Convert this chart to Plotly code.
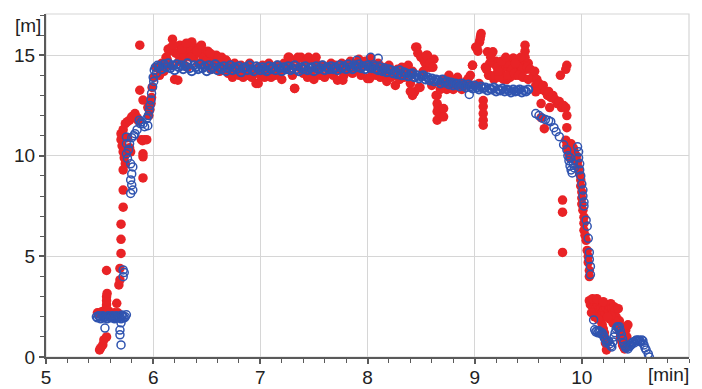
import plotly.graph_objects as go

# ---------------- BLUE (open circles) ----------------
blue_base_x = [5.47, 5.48, 5.49, 5.50, 5.51, 5.52, 5.53, 5.54, 5.55, 5.56, 5.57, 5.58, 5.59, 5.60, 5.61,
               5.62, 5.63, 5.64, 5.65, 5.66, 5.67, 5.68, 5.69, 5.70, 5.71, 5.72, 5.73, 5.74, 5.75]
blue_base_y = [2.0, 1.95, 2.05, 2.0, 1.9, 2.0, 2.05, 1.95, 2.0, 2.0, 1.9, 2.05, 2.0, 1.95, 2.0,
               2.05, 1.95, 1.9, 2.0, 2.05, 2.0, 1.95, 2.0, 1.9, 2.05, 2.0, 1.95, 2.0, 2.1]

blue_out_x = [5.55, 5.69, 5.69, 5.70, 5.70, 5.71, 5.72, 5.72, 5.73]
blue_out_y = [1.44, 1.34, 1.1, 0.6, 1.7, 2.09, 3.99, 4.33, 4.2]

blue_rise_x = [5.75, 5.75, 5.75, 5.76, 5.77, 5.78, 5.79, 5.81, 5.80, 5.79, 5.80, 5.79, 5.81, 5.80,
               5.82, 5.83, 5.85, 5.87, 5.88, 5.89, 5.905, 5.92, 5.94, 5.95, 5.955, 5.965, 5.97,
               5.98, 5.985, 5.995, 6.0, 6.005, 6.01, 6.02, 6.03, 6.04]
blue_rise_y = [10.94, 10.6, 10.1, 9.87, 10.3, 10.6, 9.6, 9.45, 9.1, 8.8, 8.55, 8.13, 8.3, 10.9,
               11.0, 11.1, 11.3, 11.77, 11.6, 11.7, 11.6, 11.45, 11.85, 11.5, 12.0, 12.27, 12.5,
               12.77, 13.1, 13.43, 13.9, 13.7, 14.26, 14.4, 14.1, 14.5]

plat_x = [6.06, 6.08, 6.10, 6.12, 6.14, 6.16, 6.18, 6.20, 6.22, 6.24,
          6.26, 6.28, 6.30, 6.32, 6.34, 6.36, 6.38, 6.40, 6.42, 6.44,
          6.46, 6.48, 6.50, 6.52, 6.54, 6.56, 6.58, 6.60, 6.62, 6.64,
          6.66, 6.68, 6.70, 6.72, 6.74, 6.76, 6.78, 6.80, 6.82, 6.84,
          6.86, 6.88, 6.90, 6.92, 6.94, 6.96, 6.98, 7.00, 7.02, 7.04,
          7.06, 7.08, 7.10, 7.12, 7.14, 7.16, 7.18, 7.20, 7.22, 7.24,
          7.26, 7.28, 7.30, 7.32, 7.34, 7.36, 7.38, 7.40, 7.42, 7.44,
          7.46, 7.48, 7.50, 7.52, 7.54, 7.56, 7.58, 7.60, 7.62, 7.64,
          7.66, 7.68, 7.70, 7.72, 7.74, 7.76, 7.78, 7.80, 7.82, 7.84,
          7.86, 7.88, 7.90, 7.92, 7.94, 7.96, 7.98, 8.00, 8.02, 8.04,
          8.06, 8.08, 8.10, 8.12, 8.14, 8.16, 8.18, 8.20, 8.22, 8.24,
          8.26, 8.28, 8.30, 8.32, 8.34, 8.36, 8.38, 8.40, 8.42, 8.44,
          8.46, 8.48, 8.50, 8.52, 8.54, 8.56, 8.58, 8.60, 8.62, 8.64,
          8.66, 8.68, 8.70, 8.72, 8.74, 8.76, 8.78, 8.80, 8.82, 8.84,
          8.86, 8.88, 8.90, 8.92, 8.94, 8.96, 8.98, 9.00, 9.02, 9.04,
          9.06, 9.08, 9.10, 9.12, 9.14, 9.16, 9.18, 9.20, 9.22, 9.24,
          9.26, 9.28, 9.30, 9.32, 9.34, 9.36, 9.38, 9.40, 9.42, 9.44,
          9.46, 9.48, 9.50]

blue_plat_y = [14.45, 14.3, 14.55, 14.4, 14.6, 14.35, 14.5, 14.25, 14.55, 14.4,
               14.5, 14.3, 14.45, 14.6, 14.35, 14.2, 14.5, 14.4, 14.3, 14.55,
               14.35, 14.45, 14.2, 14.5, 14.3, 14.4, 14.55, 14.25, 14.4, 14.3,
               14.45, 14.2, 14.35, 14.5, 14.25, 14.4, 14.3, 14.45, 14.15, 14.35,
               14.4, 14.25, 14.5, 14.3, 14.2, 14.45, 14.35, 14.25, 14.4, 14.3,
               14.2, 14.45, 14.3, 14.4, 14.25, 14.5, 14.35, 14.2, 14.4, 14.3,
               14.45, 14.25, 14.35, 14.5, 14.3, 14.2, 14.4, 14.3, 14.45, 14.25,
               14.35, 14.4, 14.2, 14.45, 14.3, 14.35, 14.5, 14.25, 14.4, 14.3,
               14.45, 14.3, 14.4, 14.25, 14.5, 14.35, 14.45, 14.3, 14.55, 14.4,
               14.3, 14.5, 14.4, 14.55, 14.35, 14.45, 14.3, 14.5, 14.4, 14.35,
               14.45, 14.3, 14.25, 14.4, 14.2, 14.35, 14.15, 14.3, 14.25, 14.1,
               14.2, 14.05, 14.25, 14.0, 14.15, 14.1, 13.95, 14.05, 14.1, 13.9,
               14.0, 13.85, 13.95, 14.0, 13.8, 13.9, 13.75, 13.85, 13.7, 13.8,
               13.75, 13.6, 13.8, 13.65, 13.7, 13.55, 13.65, 13.5, 13.6, 13.55,
               13.45, 13.6, 13.5, 13.4, 13.55, 13.45, 13.35, 13.5, 13.4, 13.3,
               13.45, 13.35, 13.4, 13.25, 13.35, 13.3, 13.4, 13.2, 13.3, 13.25,
               13.35, 13.2, 13.3, 13.25, 13.15, 13.3, 13.2, 13.25, 13.3, 13.15,
               13.25, 13.2, 13.3]

blue_plat_out_x = [7.90, 8.03, 8.10, 8.95]
blue_plat_out_y = [14.75, 14.9, 14.85, 13.05]

blue_drop_x = [9.57, 9.60, 9.63, 9.66, 9.69, 9.71, 9.74, 9.76, 9.79, 9.83, 9.86, 9.87, 9.88, 9.89,
               9.90, 9.91, 9.89, 9.92, 9.93, 9.96, 9.97, 9.97, 9.98, 9.98, 9.99, 10.0, 10.01, 10.01,
               10.02, 10.02, 10.04, 10.05, 10.06, 10.07, 10.07, 10.08, 10.08]
blue_drop_y = [12.1, 12.0, 11.87, 11.8, 11.75, 11.7, 11.4, 11.2, 10.95, 10.55, 10.3, 10.0, 9.75, 9.5,
               9.3, 9.15, 9.9, 9.6, 9.4, 10.45, 10.2, 9.9, 9.6, 9.3, 9.0, 8.6, 8.3, 8.0,
               7.7, 7.5, 6.8, 6.5, 5.9, 5.2, 4.85, 4.5, 4.1]

blue_low_x = [10.11, 10.12, 10.13, 10.14, 10.15, 10.16, 10.17, 10.18, 10.19, 10.20, 10.21, 10.22,
              10.23, 10.24, 10.25, 10.26, 10.27, 10.28, 10.29, 10.30, 10.31, 10.32, 10.33, 10.34,
              10.35, 10.36, 10.37, 10.38, 10.39, 10.40, 10.41, 10.42, 10.43, 10.44, 10.45, 10.46,
              10.47, 10.48, 10.49, 10.50, 10.51, 10.52, 10.53, 10.54, 10.55, 10.56, 10.57, 10.58,
              10.59, 10.60, 10.62, 10.63]
blue_low_y = [1.84, 1.35, 1.25, 1.3, 1.2, 1.3, 1.25, 1.15, 1.2, 1.1, 0.95, 0.85,
              0.7, 0.75, 0.8, 0.65, 0.55, 0.5, 0.75, 1.0, 1.2, 1.4, 1.5, 1.45,
              1.5, 1.3, 1.1, 0.9, 0.7, 0.55, 0.45, 0.5, 0.4, 0.5, 0.55, 0.6,
              0.7, 0.75, 0.7, 0.8, 0.85, 0.8, 0.85, 0.8, 0.75, 0.85, 0.8, 0.6,
              0.45, 0.35, 0.15, 0.0]

# ---------------- RED (filled dots) ----------------
red_base_x = [5.50, 5.51, 5.53, 5.54, 5.565, 5.48, 5.49, 5.51, 5.52, 5.53, 5.55, 5.56, 5.565, 5.565,
              5.565, 5.57, 5.56, 5.58, 5.60, 5.62, 5.64, 5.565, 5.66, 5.67, 5.68, 5.69, 5.69, 5.70,
              5.70, 5.70, 5.72, 5.72, 5.72]
red_base_y = [0.35, 0.45, 0.6, 0.85, 1.0, 2.2, 2.15, 2.2, 2.25, 2.15, 2.3, 2.4, 2.6, 2.8,
              3.0, 3.16, 2.2, 2.3, 2.2, 2.15, 2.2, 4.3, 2.67, 2.2, 3.58, 3.83, 4.4, 5.15,
              5.85, 6.6, 7.45, 8.3, 9.3]

red_rise_x = [5.70, 5.70, 5.71, 5.72, 5.73, 5.74, 5.72, 5.74, 5.76, 5.78, 5.80, 5.82, 5.83, 5.85,
              5.86, 5.76, 5.78, 5.79, 5.89, 5.90, 5.92, 5.94, 5.905, 5.905, 5.905, 5.875, 5.905,
              5.875, 5.95, 5.985, 5.97, 5.99, 6.01, 6.03, 5.96, 5.98]
red_rise_y = [10.8, 11.1, 10.5, 10.2, 9.9, 9.6, 11.3, 11.6, 11.7, 11.77, 11.94, 12.0, 12.1, 11.9,
              11.75, 10.9, 10.4, 10.2, 10.8, 10.75, 10.8, 10.8, 10.1, 9.95, 8.9, 13.26, 12.77,
              15.5, 12.4, 12.9, 12.3, 13.4, 13.9, 14.4, 12.0, 12.6]

red_plat_y = [14.0, 14.6, 14.2, 14.9, 15.3, 14.5, 15.8, 13.8, 15.1, 14.7,
              15.2, 14.8, 15.5, 14.4, 15.0, 15.6, 14.9, 15.3, 14.6, 15.1,
              14.7, 15.2, 14.5, 14.9, 14.3, 15.0, 14.6, 14.8, 14.2, 14.9,
              14.6, 14.75, 14.1, 14.5, 13.9, 14.6, 14.2, 14.0, 14.5, 13.9,
              14.3, 14.0, 14.6, 13.9, 14.1, 13.6, 14.4, 14.0, 14.5, 13.9,
              14.2, 14.6, 13.9, 14.4, 14.0, 14.5, 14.1, 13.8, 14.6, 14.3,
              14.9, 14.5, 14.0, 13.35, 14.8, 14.4, 14.9, 14.1, 14.7, 13.9,
              14.8, 14.2, 13.8, 14.6, 14.3, 14.0, 14.5, 13.9, 14.4, 14.1,
              14.6, 14.0, 14.5, 13.76, 14.3, 14.6, 14.0, 14.5, 14.2, 14.7,
              14.1, 14.6, 14.3, 14.8, 14.0, 14.5, 14.7, 13.84, 14.6, 14.2,
              14.5, 14.0, 14.6, 13.9, 14.4, 14.1, 13.7, 14.5, 13.9, 14.2,
              13.5, 14.3, 13.8, 14.4, 13.9, 14.1, 14.5, 13.6, 14.2, 13.18,
              15.4, 13.4, 14.9, 14.2, 14.6, 15.0, 14.4, 13.5, 14.8, 13.0,
              12.4, 13.6, 11.95, 13.8, 13.3, 14.0, 13.5, 13.7, 13.4, 13.9,
              13.6, 13.3, 13.5, 13.7, 13.84, 14.0, 14.5, 13.5, 15.4, 13.6,
              16.08, 12.75, 14.4, 15.17, 14.0, 14.7, 13.8, 14.5, 14.2, 14.6,
              14.0, 14.4, 13.8, 14.6, 14.3, 14.85, 14.0, 14.5, 14.2, 14.7,
              14.9, 14.3, 14.6]

red_extra_x = [6.13, 6.17, 6.21, 6.23, 6.25, 6.29, 6.33, 6.36, 6.39, 6.43, 6.47, 6.51, 6.55, 6.59,
               6.63, 6.68, 6.15, 6.19, 6.27, 6.31, 6.35, 6.41, 6.45, 6.49, 6.53, 6.57, 6.61, 6.65,
               6.70, 6.72,
               6.98, 7.27, 7.32, 7.35, 7.45, 7.52, 7.77, 8.00, 8.03, 8.02,
               8.45, 8.47, 8.50, 8.53, 8.55, 8.58, 8.61, 8.42, 8.49, 8.40,
               8.65, 8.65, 8.65, 8.65, 8.71, 8.71, 8.68, 8.75, 8.80, 8.83, 8.78,
               9.03, 9.045, 9.05, 9.055, 9.01, 8.98,
               9.08, 9.08, 9.08, 9.08,
               9.17, 9.20, 9.24, 9.30, 9.36, 9.40, 9.47, 9.47, 9.47, 9.44, 9.33, 9.27, 9.13, 9.14,
               9.11, 9.15, 9.19, 9.21, 9.23, 9.25, 9.29, 9.31, 9.35, 9.37, 9.39, 9.41, 9.43, 9.45,
               9.49, 9.50, 9.38, 9.22]
red_extra_y = [14.8, 15.4, 15.1, 13.76, 15.5, 15.0, 15.3, 15.66, 15.1, 15.4, 14.9, 15.2, 14.8, 15.0,
               14.7, 14.75, 15.2, 15.5, 15.3, 15.6, 14.9, 15.2, 15.5, 14.7, 15.1, 14.6, 14.9, 14.5,
               14.6, 14.4,
               13.6, 14.9, 13.35, 14.9, 14.9, 14.9, 13.76, 14.7, 14.84, 13.84,
               15.4, 15.1, 14.9, 14.7, 15.0, 14.6, 14.4, 13.0, 13.4, 13.2,
               13.0, 12.6, 12.2, 11.77, 12.35, 11.94, 13.3, 13.5, 13.3, 13.6, 13.8,
               15.2, 15.65, 15.8, 15.95, 15.4, 14.5,
               12.45, 12.1, 11.77, 11.52,
               15.17, 14.7, 14.5, 14.6, 14.85, 14.5, 15.5, 15.2, 14.9, 14.3, 13.9, 13.8, 14.0, 14.6,
               14.3, 14.9, 14.0, 14.4, 13.9, 14.7, 14.9, 14.0, 14.3, 14.1, 14.8, 14.0, 14.9, 13.9,
               14.4, 13.8, 14.6, 14.2]

red_drop_x = [9.52, 9.54, 9.56, 9.57, 9.58, 9.60, 9.62, 9.64, 9.66, 9.68, 9.69, 9.71, 9.73, 9.75,
              9.77, 9.79, 9.81, 9.83, 9.85, 9.86, 9.86, 9.80, 9.86, 9.85, 9.62, 9.65, 9.57, 9.62,
              9.70, 9.85, 9.86, 9.87, 9.88, 9.89, 9.90, 9.92, 9.93, 9.95, 9.96, 9.97, 9.98, 9.99,
              9.99, 10.0, 10.0, 10.0, 10.01, 10.02, 10.02, 10.02, 10.03, 10.04, 10.05, 10.06,
              10.06, 10.07, 10.07, 9.82, 9.82, 9.82]
red_drop_y = [14.3, 13.9, 14.2, 13.5, 13.8, 13.6, 13.3, 13.5, 13.2, 13.0, 13.2, 12.9, 13.0, 12.8,
              12.6, 12.7, 12.4, 12.5, 12.4, 12.0, 11.4, 14.0, 14.5, 14.3, 11.9, 11.35, 13.18, 12.6,
              12.4, 10.78, 10.5, 10.3, 10.1, 9.9, 10.6, 10.4, 10.2, 10.0, 9.7, 9.4, 9.1, 8.8,
              8.5, 8.2, 7.9, 7.6, 7.3, 6.95, 6.65, 6.3, 6.05, 5.8, 5.3, 5.0,
              4.7, 4.3, 4.0, 7.8, 7.2, 5.2]

red_low_x = [10.07, 10.08, 10.09, 10.10, 10.11, 10.12, 10.13, 10.14, 10.15, 10.16, 10.17, 10.18,
             10.19, 10.20, 10.21, 10.22, 10.23, 10.24, 10.25, 10.26, 10.27, 10.28, 10.29, 10.30,
             10.31, 10.32, 10.33, 10.34, 10.35, 10.36, 10.37, 10.38, 10.39, 10.35, 10.36, 10.37,
             10.38, 10.39, 10.18, 10.20, 10.21, 10.22, 10.23, 10.19, 10.21, 10.09, 10.12, 10.15,
             10.26, 10.29, 10.31, 10.41, 10.43, 10.42, 10.42, 10.40, 10.27, 10.24, 10.10, 10.14,
             10.20, 10.34]
red_low_y = [2.8, 2.6, 2.75, 2.5, 2.8, 2.6, 2.4, 2.7, 2.5, 2.3, 2.6, 2.45,
             2.2, 2.55, 2.35, 2.1, 2.4, 2.6, 2.3, 2.5, 2.65, 2.4, 2.2, 2.5,
             2.3, 2.0, 1.7, 1.5, 1.3, 1.0, 0.8, 0.6, 0.5, 1.8, 1.55, 1.3,
             1.0, 0.75, 1.8, 1.4, 1.0, 0.7, 0.35, 1.6, 1.2, 2.2, 2.0, 1.9,
             1.9, 1.7, 1.8, 1.34, 1.6, 1.0, 0.6, 0.4, 2.05, 2.0, 2.9, 2.9,
             2.75, 2.4]

# axis ticks
x_ticks = [5, 6, 7, 8, 9, 10]
y_ticks = [0, 5, 10, 15]

red_x = red_base_x + red_rise_x + plat_x + red_extra_x + red_drop_x + red_low_x
red_y = red_base_y + red_rise_y + red_plat_y + red_extra_y + red_drop_y + red_low_y
blue_x = blue_base_x + blue_out_x + blue_rise_x + blue_plat_out_x + blue_drop_x + blue_low_x
blue_y = blue_base_y + blue_out_y + blue_rise_y + blue_plat_out_y + blue_drop_y + blue_low_y

RED = "rgb(233,35,38)"
BLUE = "rgb(48,84,176)"
AXIS = "#5a5a5a"
GRID = "#d6d6d6"
FONT = "Liberation Sans, Arial, sans-serif"

fig = go.Figure()
fig.add_trace(go.Scatter(x=red_x, y=red_y, mode="markers",
                         marker=dict(size=9.5, color=RED, line=dict(width=0)),
                         showlegend=False, hoverinfo="skip"))
fig.add_trace(go.Scatter(x=blue_x, y=blue_y, mode="markers",
                         marker=dict(size=8, symbol="circle-open", color=BLUE, line=dict(width=1.5, color=BLUE)),
                         showlegend=False, hoverinfo="skip"))
# dense plateau section of the same blue series
fig.add_trace(go.Scatter(x=plat_x, y=blue_plat_y, mode="markers",
                         marker=dict(size=8, symbol="circle-open", color=BLUE, line=dict(width=2.0, color=BLUE)),
                         showlegend=False, hoverinfo="skip"))

fig.update_layout(
    width=694, height=381,
    margin=dict(l=38, r=13, t=6, b=32),
    paper_bgcolor="white", plot_bgcolor="white",
    font=dict(family=FONT, size=19, color="#222"),
    xaxis=dict(range=[5, 11], tickvals=x_ticks, ticktext=[str(v) for v in x_ticks],
               showgrid=True, gridcolor=GRID, gridwidth=1, zeroline=False,
               showline=True, linecolor=AXIS, linewidth=2,
               ticks="outside", ticklen=5, tickwidth=1.5, tickcolor=AXIS,
               ticklabelstandoff=-3,
               minor=dict(dtick=0.2, tick0=5, ticks="outside", ticklen=4, tickwidth=1.2, tickcolor=AXIS, showgrid=False),
               automargin=False, fixedrange=True),
    yaxis=dict(range=[0, 17.05], tickvals=y_ticks, ticktext=[str(v) for v in y_ticks],
               showgrid=True, gridcolor=GRID, gridwidth=1, zeroline=False,
               showline=True, linecolor=AXIS, linewidth=2,
               ticks="outside", ticklen=5, tickwidth=1.5, tickcolor=AXIS,
               minor=dict(dtick=1, tick0=0, ticks="outside", ticklen=4, tickwidth=1.2, tickcolor=AXIS, showgrid=False),
               automargin=False, fixedrange=True),
    shapes=[dict(type="rect", xref="paper", yref="paper", x0=0, y0=0, x1=1, y1=1,
                 line=dict(color=GRID, width=1.2), layer="below")],
    annotations=[
        dict(text="[m]", xref="paper", x=0, xanchor="right", xshift=-3,
             yref="y", y=16.5, yanchor="middle", showarrow=False,
             font=dict(family=FONT, size=19, color="#222")),
        dict(text="[min]", xref="x", x=11, xanchor="right", xshift=2,
             yref="paper", y=0, yanchor="top", yshift=-5, showarrow=False,
             font=dict(family=FONT, size=19, color="#222")),
    ],
)

fig.write_html("out.html")
